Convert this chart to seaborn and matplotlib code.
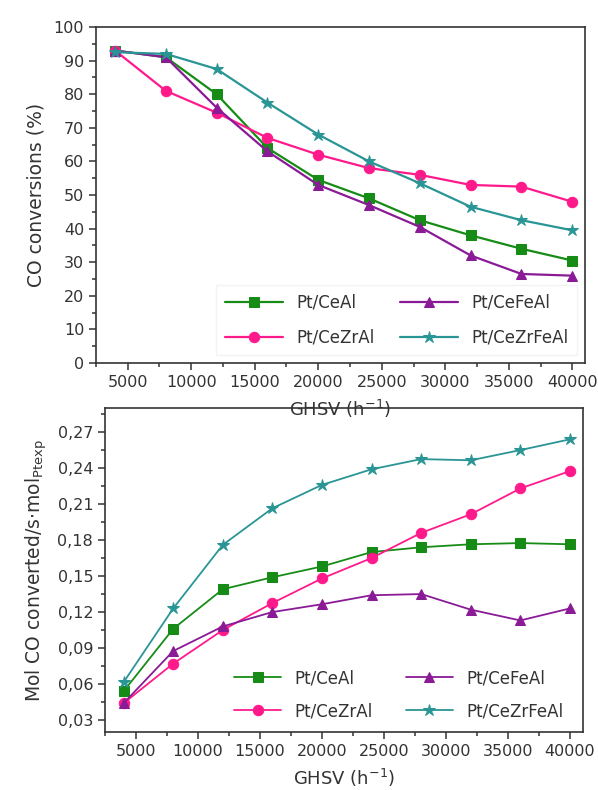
import numpy as np
import pandas as pd
import seaborn as sns
import matplotlib.pyplot as plt

# GHSV values (h-1)
ghsv = [4000, 8000, 12000, 16000, 20000, 24000, 28000, 32000, 36000, 40000]
catalysts = ['Pt/CeAl', 'Pt/CeZrAl', 'Pt/CeFeAl', 'Pt/CeZrFeAl']

# CO conversion (%)
conv_ceal = [93, 91, 80, 64, 54.5, 49, 42.5, 38, 34, 30.5]
conv_cezral = [93, 81, 74.5, 67, 62, 58, 56, 53, 52.5, 48]
conv_cefeal = [93, 91, 76, 63, 53, 47, 40.5, 32, 26.5, 26]
conv_cezrfeal = [92.5, 92, 87.5, 77.5, 68, 60, 53.5, 46.5, 42.5, 39.5]

# mol CO converted / s.mol Pt exp
rate_ceal = [0.054, 0.106, 0.139, 0.149, 0.158, 0.170, 0.174, 0.1765, 0.1775, 0.1765]
rate_cezral = [0.044, 0.077, 0.105, 0.1275, 0.148, 0.165, 0.186, 0.2015, 0.223, 0.2375]
rate_cefeal = [0.044, 0.0875, 0.108, 0.120, 0.1265, 0.134, 0.135, 0.122, 0.113, 0.123]
rate_cezrfeal = [0.0615, 0.123, 0.176, 0.2065, 0.226, 0.239, 0.2475, 0.2465, 0.255, 0.264]

colors = {'Pt/CeAl': '#168c16', 'Pt/CeZrAl': '#ff1a8c',
          'Pt/CeFeAl': '#8a1a96', 'Pt/CeZrFeAl': '#2a9595'}
markers = {'Pt/CeAl': 's', 'Pt/CeZrAl': 'o', 'Pt/CeFeAl': '^', 'Pt/CeZrFeAl': '*'}


def make_df(series):
    rows = []
    for cat, vals in zip(catalysts, series):
        for g, v in zip(ghsv, vals):
            rows.append({'GHSV': g, 'value': v, 'Catalyst': cat})
    return pd.DataFrame(rows)


df_conv = make_df([conv_ceal, conv_cezral, conv_cefeal, conv_cezrfeal])
df_rate = make_df([rate_ceal, rate_cezral, rate_cefeal, rate_cezrfeal])

sns.set_style('ticks')
plt.rcParams['font.family'] = ['DejaVu Sans']
plt.rcParams['axes.edgecolor'] = '#333333'
plt.rcParams['xtick.color'] = '#333333'
plt.rcParams['ytick.color'] = '#333333'
plt.rcParams['text.color'] = '#333333'
plt.rcParams['axes.labelcolor'] = '#333333'

fig = plt.figure(figsize=(5.98, 7.9), dpi=100)
ax1 = fig.add_axes([0.1605, 0.5405, 0.8177, 0.4253])
ax2 = fig.add_axes([0.1756, 0.0734, 0.799, 0.410])
ax1.set_zorder(3)


def style_axis(ax, xlim):
    ax.set_xlim(*xlim)
    ax.set_xticks(range(5000, 40001, 5000))
    ax.set_xticks(range(2500, 40001, 2500), minor=True)
    ax.tick_params(axis='both', which='major', length=5, width=1.1, labelsize=11.5, direction='out')
    ax.tick_params(axis='both', which='minor', length=3, width=1.1, direction='out')
    for s in ax.spines.values():
        s.set_linewidth(1.2)
        s.set_visible(True)


def fix_markers(lines):
    for ln in lines:
        ln.set_markeredgecolor(ln.get_color())
        if ln.get_marker() == '*':
            ln.set_markersize(9)
        elif ln.get_marker() == 'o':
            ln.set_markersize(7.5)


# top panel
sns.lineplot(data=df_conv, x='GHSV', y='value', hue='Catalyst', style='Catalyst',
             hue_order=catalysts, style_order=catalysts, palette=colors,
             markers=markers, dashes=False, markersize=7, linewidth=1.6, ax=ax1)
style_axis(ax1, (3070, 41000))
ax1.set_ylim(0, 100)
ax1.set_yticks(range(0, 101, 10))
ax1.set_yticks(range(0, 101, 5), minor=True)
ax1.set_xlabel('GHSV (h$^{-1}$)', fontsize=13, labelpad=6)
ax1.set_ylabel('CO conversions (%)', fontsize=13.5, labelpad=6)
leg1 = ax1.legend(ncol=2, loc='lower right', fontsize=12, frameon=True,
                  bbox_to_anchor=(1.0, 0.0), handlelength=3.5, columnspacing=1.5,
                  labelspacing=1.0, borderpad=0.5, fancybox=False, edgecolor='#f0f0f0')
leg1.set_zorder(1)
fix_markers(ax1.lines)
fix_markers(leg1.get_lines())

# bottom panel
sns.lineplot(data=df_rate, x='GHSV', y='value', hue='Catalyst', style='Catalyst',
             hue_order=catalysts, style_order=catalysts, palette=colors,
             markers=markers, dashes=False, markersize=7, linewidth=1.3, ax=ax2)
style_axis(ax2, (2960, 41040))
ax2.set_ylim(0.02, 0.29)
yt = [0.03, 0.06, 0.09, 0.12, 0.15, 0.18, 0.21, 0.24, 0.27]
ax2.set_yticks(yt)
ax2.set_yticklabels([f'{v:.2f}'.replace('.', ',') for v in yt])
ax2.set_yticks(np.arange(0.03, 0.29, 0.015), minor=True)
ax2.set_xlabel('GHSV (h$^{-1}$)', fontsize=13, labelpad=6)
ax2.set_ylabel('Mol CO converted/s$\\cdot$mol$_{\\mathrm{Ptexp}}$', fontsize=13.5, labelpad=6)
leg2 = ax2.legend(ncol=2, loc='lower right', fontsize=12, frameon=False,
                  bbox_to_anchor=(0.99, -0.01), handlelength=2.8, columnspacing=2.0,
                  labelspacing=0.9)
fix_markers(ax2.lines)
fix_markers(leg2.get_lines())

fig.savefig('out.png', dpi=100)
